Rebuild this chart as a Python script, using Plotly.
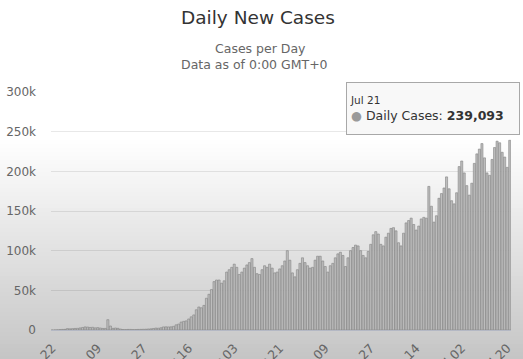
import plotly.graph_objects as go
import pandas as pd

# ---- data ----
jan_cases = [0, 100, 290, 490, 690, 790, 1770, 1460, 1740, 1980]
feb_cases = [2100, 2600, 3200, 3900, 3700, 3200, 3400, 2700, 3000, 2500,
             2000, 2000, 13000, 5000, 2100, 2500, 2100, 1200, 550, 630,
             700, 700, 500, 600, 700, 800, 900, 1000, 1300]
mar_cases = [1500, 1900, 2400, 2300, 2800, 3900, 4000, 3900, 4000, 4600,
             6500, 7500, 10000, 10900, 11500, 13900, 16600, 19000, 25500, 29000,
             28000, 31000, 40000, 45000, 51000, 61000, 63000, 63000, 59000, 62000,
             73000]
apr_cases = [76000, 79000, 83000, 79000, 70000, 73000, 78000, 82000, 85000, 90000,
             79000, 71000, 70000, 76000, 81000, 79000, 83000, 78000, 72000, 73000,
             77000, 81000, 87000, 100000, 88000, 72000, 67000, 76000, 84000, 91000]
may_cases = [85000, 81000, 78000, 79000, 88000, 93000, 93000, 87000, 80000, 73000,
             81000, 84000, 91000, 96000, 98000, 94000, 80000, 91000, 100000, 104000,
             107000, 106000, 100000, 94000, 91000, 99000, 108000, 120000, 124000, 121000,
             108000]
jun_cases = [106000, 117000, 122000, 128000, 129000, 125000, 110000, 106000, 122000, 135000,
             138000, 141000, 133000, 126000, 131000, 140000, 142000, 141000, 181000, 156000,
             136000, 144000, 166000, 172000, 179000, 193000, 178000, 163000, 159000, 173000]
jul_cases = [206000, 213000, 198000, 182000, 170000, 185000, 210000, 222000, 228000, 235000,
             217000, 198000, 195000, 215000, 230000, 238000, 236000, 224000, 218000, 205000,
             239093]

daily_cases = jan_cases + feb_cases + mar_cases + apr_cases + may_cases + jun_cases + jul_cases
dates = [d.strftime("%b %d") for d in pd.date_range("2020-01-22", "2020-07-21")]
tick_labels = dates[::18]

title_text = "Daily New Cases"
subtitle_lines = ["Cases per Day", "Data as of 0:00 GMT+0"]
tooltip_date = "Jul 21"
tooltip_series = "Daily Cases"
tooltip_value = "239,093"

# ---- layout geometry ----
W, H = 523, 359
ML, MR, MT, MB = 51, 12, 92, 29
PW, PH = W - ML - MR, H - MT - MB


def px_x(p):
    return (p - ML) / PW


def px_y(p):
    return (H - MB - p) / PH


FONT = "DejaVu Sans"

fig = go.Figure(
    go.Bar(
        x=dates,
        y=daily_cases,
        marker=dict(color="#bdbdbd", line=dict(color="#838383", width=0.6)),
        hoverinfo="skip",
    )
)

# background gradient (white top -> grey bottom)
shapes = []
start, end = 140, H
step = 4
for p in range(start, end, step):
    t = (p + step / 2 - start) / (end - start)
    c = int(round(255 - 58 * t))
    shapes.append(dict(type="rect", xref="paper", yref="paper",
                       x0=px_x(0), x1=px_x(W), y0=px_y(p + step), y1=px_y(p),
                       fillcolor=f"rgb({c},{c},{c})", line=dict(width=0), layer="below"))
shapes.insert(0, dict(type="rect", xref="paper", yref="paper",
                      x0=px_x(0), x1=px_x(W), y0=px_y(start), y1=px_y(0),
                      fillcolor="white", line=dict(width=0), layer="below"))

annotations = [
    dict(text=title_text, xref="paper", yref="paper", x=px_x(258), y=px_y(17),
         showarrow=False, xanchor="center", yanchor="middle",
         font=dict(family=FONT, size=18.5, color="#333333")),
    dict(text=subtitle_lines[0], xref="paper", yref="paper", x=px_x(260), y=px_y(49),
         showarrow=False, xanchor="center", yanchor="middle",
         font=dict(family=FONT, size=12.5, color="#666666")),
    dict(text=subtitle_lines[1], xref="paper", yref="paper", x=px_x(254), y=px_y(65),
         showarrow=False, xanchor="center", yanchor="middle",
         font=dict(family=FONT, size=12.5, color="#666666")),
    dict(text=(f"<span style='font-size:10.5px'>{tooltip_date}</span><br>"
               f"<span style='color:#9a9a9a'>●</span> {tooltip_series}: <b>{tooltip_value}</b>"),
         xref="paper", yref="paper", x=px_x(346), y=px_y(82),
         showarrow=False, xanchor="left", yanchor="top", align="left",
         width=166, height=45, borderpad=3, valign="middle",
         bgcolor="rgba(248,248,248,0.96)", bordercolor="#a8a8a8", borderwidth=1,
         font=dict(family=FONT, size=12.5, color="#333333")),
]

fig.update_layout(
    width=W, height=H,
    margin=dict(l=ML, r=MR, t=MT, b=MB, pad=0, autoexpand=False),
    paper_bgcolor="white",
    plot_bgcolor="rgba(0,0,0,0)",
    showlegend=False,
    bargap=0.18,
    shapes=shapes,
    annotations=annotations,
    font=dict(family=FONT, color="#666666"),
    xaxis=dict(
        type="category", automargin=False,
        tickmode="array", tickvals=tick_labels, ticktext=tick_labels,
        tickangle=-45, tickfont=dict(size=12.5, color="#666666"),
        showgrid=False, showline=True, linecolor="#b4b8c4", linewidth=1,
        ticks="", zeroline=False, range=[-0.5, len(dates) - 0.5],
        ticklabelstandoff=5,
    ),
    yaxis=dict(
        automargin=False,
        range=[0, 300000], tickvals=[0, 50000, 100000, 150000, 200000, 250000, 300000],
        tickformat="~s", tickfont=dict(size=12, color="#666666"),
        showgrid=True, gridcolor="rgba(0,0,0,0.09)", gridwidth=1,
        zeroline=False, ticks="", ticklabelstandoff=14,
    ),
)

fig.write_html(
    "out.html",
    config={"displayModeBar": False},
    post_script="document.body.style.margin='0';document.body.style.overflow='hidden';",
)
